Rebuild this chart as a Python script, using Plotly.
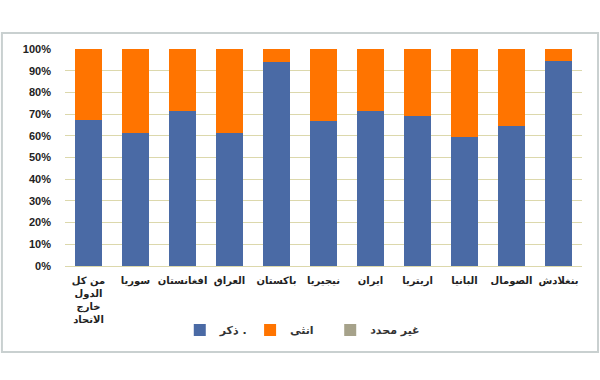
import plotly.graph_objects as go

categories = ["من كل<br>الدول<br>خارج<br>الاتحاد", "سوريا", "افغانستان", "العراق", "باكستان",
              "نيجيريا", "ايران", "اريتريا", "البانيا", "الصومال", "بنغلادش"]
male = [67.4, 61.3, 71.5, 61.4, 93.8, 67.0, 71.6, 69.0, 59.5, 64.7, 94.3]
female = [32.6, 38.7, 28.5, 38.6, 6.2, 33.0, 28.4, 31.0, 40.5, 35.3, 5.7]
unspecified = [0, 0, 0, 0, 0, 0, 0, 0, 0, 0, 0]
series_names = ["ذكر .", "انثى", "غير محدد"]
y_ticks = [0, 10, 20, 30, 40, 50, 60, 70, 80, 90, 100]
y_tick_text = ["0%", "10%", "20%", "30%", "40%", "50%", "60%", "70%", "80%", "90%", "100%"]

colors = ["#4a6aa5", "#ff7400", "#a6a28a"]
legend_ids = ["legend", "legend2", "legend3"]
legend_x = [0.222, 0.358, 0.513]
font_fam = "DejaVu Sans, Noto Sans, sans-serif"

fig = go.Figure()
for name, vals, c, lg in zip(series_names, [male, female, unspecified], colors, legend_ids):
    fig.add_trace(go.Bar(x=categories, y=vals, name=name, marker_color=c,
                         marker_line_width=0, legend=lg))

leg_common = dict(orientation="h", xanchor="left", y=-0.295, yanchor="middle",
                  font=dict(size=11, color="#333333", family=font_fam, weight="bold"),
                  bgcolor="rgba(0,0,0,0)", itemwidth=30)

fig.update_layout(
    width=600, height=380,
    barmode="stack", bargap=0.43,
    paper_bgcolor="white", plot_bgcolor="white",
    margin=dict(l=65, r=18, t=49, b=114, autoexpand=False),
    font=dict(family=font_fam, size=11, color="#333333"),
    showlegend=True,
    legend=dict(x=legend_x[0], **leg_common),
    legend2=dict(x=legend_x[1], **leg_common),
    legend3=dict(x=legend_x[2], **leg_common),
    shapes=[dict(type="rect", xref="paper", yref="paper",
                 x0=-0.122, x1=1.031, y0=-0.396, y1=1.074,
                 line=dict(color="#c9d0d0", width=2), fillcolor="rgba(0,0,0,0)",
                 layer="below")],
)
fig.update_yaxes(range=[0, 100], tickvals=y_ticks, ticktext=y_tick_text,
                 showgrid=True, gridcolor="#dcd8ac", gridwidth=1,
                 zeroline=False, showline=False, automargin=False,
                 tickfont=dict(size=11, color="#222222", family="Liberation Sans, Arial", weight="bold"),
                 ticklabelstandoff=13)
fig.update_xaxes(showline=True, linecolor="#dcd8ac", linewidth=1, automargin=False,
                 tickfont=dict(size=10, color="#222222", family=font_fam, weight="bold"),
                 tickangle=0, ticks="", ticklabelstandoff=5)

fig.write_html("out.html", config={"displayModeBar": False},
               post_script="document.body.style.margin='0';")
